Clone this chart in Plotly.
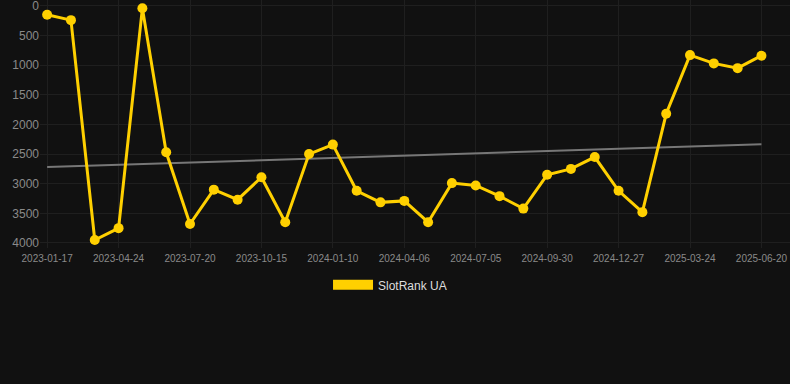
import numpy as np
import plotly.graph_objects as go

dates = [
    "2023-01-17", "2023-02-19", "2023-03-23", "2023-04-24", "2023-05-23", "2023-06-21",
    "2023-07-20", "2023-08-18", "2023-09-16", "2023-10-15", "2023-11-13", "2023-12-12",
    "2024-01-10", "2024-02-08", "2024-03-08", "2024-04-06", "2024-05-06", "2024-06-05",
    "2024-07-05", "2024-08-03", "2024-09-01", "2024-09-30", "2024-10-29", "2024-11-28",
    "2024-12-27", "2025-01-25", "2025-02-23", "2025-03-24", "2025-04-22", "2025-05-21",
    "2025-06-20",
]
ranks = [
    150, 240, 3950, 3750, 40, 2470, 3680, 3100, 3270, 2890, 3650, 2500, 2340, 3120, 3315,
    3290, 3650, 2990, 3030, 3210, 3420, 2850, 2750, 2550, 3120, 3480, 1820, 830, 970, 1050,
    840,
]
tick_dates = dates[::3]
y_ticks = [0, 500, 1000, 1500, 2000, 2500, 3000, 3500, 4000]
series_name = "SlotRank UA"

idx = np.arange(len(ranks))
slope, intercept = np.polyfit(idx, ranks, 1)
trend = slope * idx + intercept

GOLD = "#FFD000"
BG = "#111111"
GRID = "#1f1f1f"
FONT = "Liberation Sans, Arial, sans-serif"

fig = go.Figure()
fig.add_trace(go.Scatter(
    x=dates, y=trend, mode="lines",
    line=dict(color="#777777", width=2),
    showlegend=False, hoverinfo="skip",
))
fig.add_trace(go.Scatter(
    x=dates, y=ranks, mode="lines+markers",
    line=dict(color=GOLD, width=3),
    marker=dict(color=GOLD, size=10),
    showlegend=False, name=series_name,
))
fig.add_trace(go.Scatter(
    x=[None], y=[None], mode="lines",
    line=dict(color=GOLD, width=12),
    name=series_name, showlegend=True,
))

fig.update_layout(
    width=790, height=384,
    paper_bgcolor=BG, plot_bgcolor=BG,
    margin=dict(l=40, r=0, t=0, b=136),
    font=dict(family=FONT, color="#8a8a8a", size=11),
    legend=dict(
        orientation="h", x=0.4667, xanchor="center", y=-0.09, yanchor="top",
        font=dict(family=FONT, color="#dddddd", size=12),
        itemwidth=40, bgcolor="rgba(0,0,0,0)",
    ),
)
fig.update_xaxes(
    type="category", categoryorder="array", categoryarray=dates,
    range=[-0.3, 31.2],
    tickmode="array", tickvals=tick_dates, ticktext=tick_dates,
    tickfont=dict(size=10, color="#8a8a8a"),
    ticklabelstandoff=3,
    showgrid=True, gridcolor=GRID, gridwidth=1,
    zeroline=False, showline=False, ticks="",
)
fig.update_yaxes(
    range=[4085, -100],
    tickmode="array", tickvals=y_ticks,
    tickfont=dict(size=12, color="#8a8a8a"),
    ticklabeloverflow="allow",
    showgrid=True, gridcolor=GRID, gridwidth=1,
    zeroline=False, showline=False, ticks="",
)

fig.write_html(
    "out.html",
    config={"displayModeBar": False},
    post_script="document.body.style.margin='0';document.body.style.background='#111111';",
)
